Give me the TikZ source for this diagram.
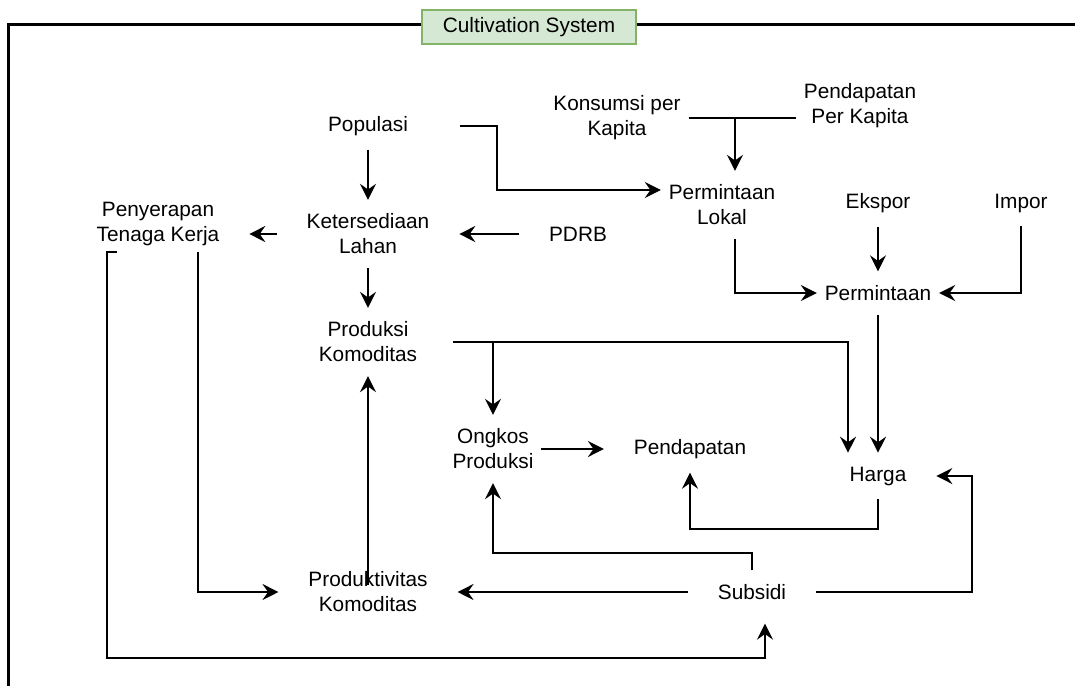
\documentclass[tikz,border=0pt]{standalone}
\usepackage{fontspec}
\setmainfont{Liberation Sans}
\usepackage{tikz}
\usetikzlibrary{calc,positioning,arrows.meta,shapes}
\definecolor{titlefill}{HTML}{D5E8D4}
\definecolor{titleline}{HTML}{82B366}
\tikzset{
    var/.style={
        rectangle,
        align=center,
        font=\fontsize{10.4}{12.5}\selectfont,
        inner xsep=15pt,
        inner ysep=7pt,
        outer sep=0pt,
    },
    var tight/.style={
        var,
        inner xsep=4pt,
    },
    title box/.style={
        draw=titleline,
        fill=titlefill,
        line width=0.8pt,
        font=\fontsize{10.4}{12.5}\selectfont,
        minimum width=107pt,
        minimum height=17pt,
        inner sep=0pt,
    },
    frame/.style={
        line width=1.5pt,
    },
    link/.style={
        line width=1.05pt,
    },
    connector/.style={
        link,
        -{Stealth[length=8pt,width=8pt,inset=2.8pt]},
    },
}
\begin{document}
\begin{tikzpicture}[x=0.5pt,y=-0.5pt]
    \useasboundingbox (0,0) rectangle (1075,686);
    \draw[frame] (8,686) -- (8,24) -- (1075,24);
    \node[title box](title) at (529,27) {Cultivation System};
    % variables
    \node[var](pop) at (368,126) {Populasi};
    \node[var tight](kpk) at (617,118) {Konsumsi per\\Kapita};
    \node[var tight](ppk) at (860,106) {Pendapatan\\Per Kapita};
    \node[var tight](plok) at (722,205) {Permintaan\\Lokal};
    \node[var](eks) at (878,203) {Ekspor};
    \node[var](imp) at (1021,203) {Impor};
    \node[var](pen) at (158,224) {Penyerapan\\Tenaga Kerja};
    \node[var](ket) at (368,234) {Ketersediaan\\Lahan};
    \node[var](pdrb) at (578,234) {PDRB};
    \node[var tight](perm) at (878,293) {Permintaan};
    \node[var](prod) at (368,342) {Produksi\\Komoditas};
    \node[var tight](ong) at (493,449) {Ongkos\\Produksi};
    \node[var](pdp) at (690,449) {Pendapatan};
    \node[var](hrg) at (878,476) {Harga};
    \node[var](prodk) at (368,592) {Produktivitas\\Komoditas};
    \node[var](sub) at (752,592) {Subsidi};
    \coordinate (kj) at (735,118);
    % links
    \draw[connector] ([xshift=11pt]pop.east) -- ++(37,0) |- ([yshift=7.5pt]plok.west);
    \draw[link] (kpk.east) -- (kpk.east -| ppk.west);
    \draw[connector] (kj) -- (kj |- plok.north);
    \draw[connector] (pop) -- (ket);
    \draw[connector] (pdrb) -- (ket);
    \draw[connector] (ket.west) -- (ket.west -| pen.east);
    \draw[connector] (ket) -- (prod);
    \draw[connector] ([xshift=6.5pt]plok.south) |- (perm.west);
    \draw[connector] (eks) -- (perm);
    \draw[connector] (imp.south) |- (perm.east);
    \draw[connector] (perm) -- (hrg);
    \draw[connector] ([xshift=3pt]prod.east) -| ([xshift=-15pt]hrg.north);
    \draw[connector] (prod.east -| ong.north) -- (ong.north);
    \draw[connector] (ong) -- (pdp);
    \draw[connector] (hrg.south) -- ++(0,30) -| (pdp.south);
    \draw[connector] (sub.north) -- ++(0,-17) -| (ong.south);
    \draw[connector] (sub) -- (prodk);
    \draw[connector] (sub.east) -- ++(156,0) |- (hrg.east);
    \draw[connector] ([yshift=3.5pt]prodk.center) -- (prod.south);
    \draw[connector] ([xshift=20pt,yshift=4pt]pen.south) |- (prodk.west);
    \draw[connector] ([xshift=-20.5pt,yshift=4pt]pen.south) -- ++(-10,0) -- ++(0,406) -| ([xshift=6.5pt,yshift=-5pt]sub.south);
\end{tikzpicture}
\end{document}
